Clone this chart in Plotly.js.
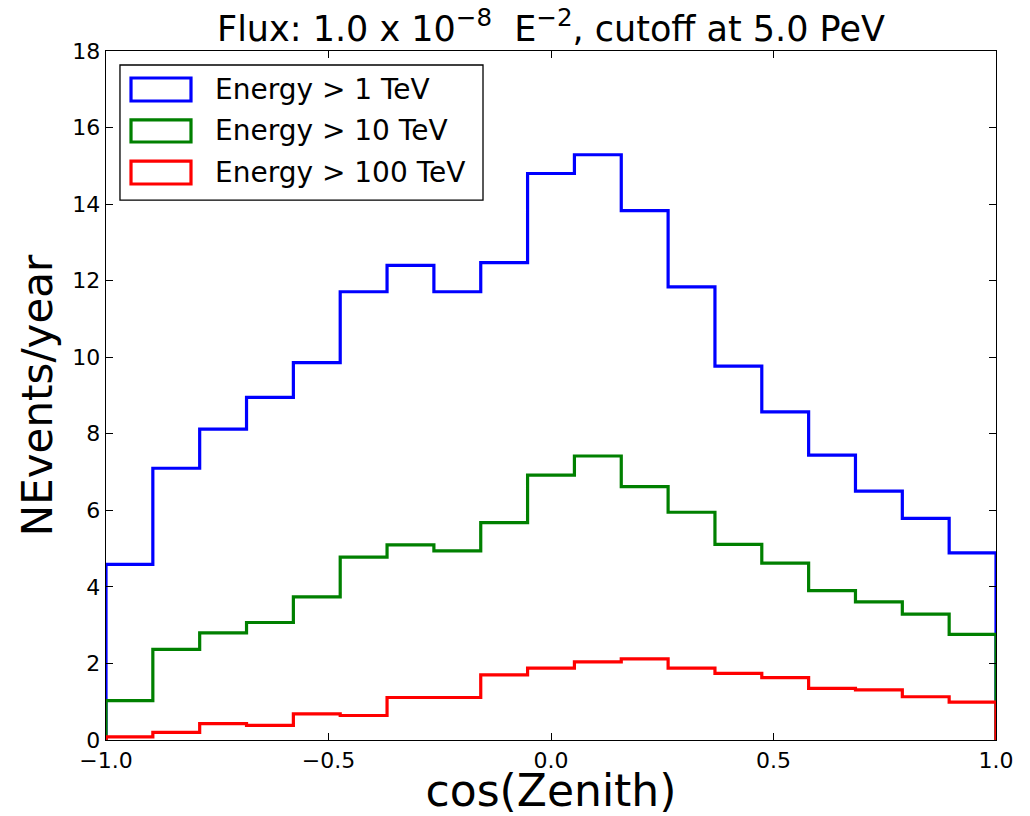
<!DOCTYPE html>
<html>
<head>
<meta charset="utf-8">
<script src="https://cdn.plot.ly/plotly-3.0.1.min.js"></script>
<style>html,body{margin:0;padding:0;background:#fff;}#chart{width:1030px;height:816px;}</style>
</head>
<body>
<div id="chart"></div>
<script>
// Data (19 bins over cos(Zenith) in [-1, 1])
const binLow = -1.0;
const binHigh = 1.0;
const nBins = 19;
const seriesNames = ["Energy > 1 TeV", "Energy > 10 TeV", "Energy > 100 TeV"];
const seriesColors = ["#0000ff", "#008000", "#ff0000"];
const countsAbove1TeV = [4.59, 7.10, 8.12, 8.95, 9.86, 11.71, 12.40, 11.71, 12.47, 14.80, 15.29, 13.83, 11.84, 9.77, 8.57, 7.44, 6.50, 5.79, 4.89];
const countsAbove10TeV = [1.03, 2.37, 2.80, 3.07, 3.74, 4.78, 5.10, 4.94, 5.68, 6.92, 7.42, 6.62, 5.95, 5.11, 4.62, 3.90, 3.61, 3.29, 2.76];
const countsAbove100TeV = [0.08, 0.20, 0.43, 0.38, 0.68, 0.64, 1.11, 1.11, 1.70, 1.88, 2.04, 2.12, 1.88, 1.74, 1.63, 1.35, 1.31, 1.13, 0.99];
const xTickVals = [-1.0, -0.5, 0.0, 0.5, 1.0];
const yTickVals = [0, 2, 4, 6, 8, 10, 12, 14, 16, 18];

const edges = [];
for (let i = 0; i <= nBins; i++) edges.push(binLow + (binHigh - binLow) * i / nBins);

function stepTrace(counts, name, color) {
  const xs = [edges[0]], ys = [0];
  for (let i = 0; i < counts.length; i++) { xs.push(edges[i]); ys.push(counts[i]); }
  xs.push(edges[counts.length]); ys.push(counts[counts.length - 1]);
  xs.push(edges[counts.length]); ys.push(0);
  return {x: xs, y: ys, type: 'scatter', mode: 'lines', name: name,
          line: {shape: 'hv', color: color, width: 3.2}, showlegend: false, hoverinfo: 'skip'};
}

const allCounts = [countsAbove1TeV, countsAbove10TeV, countsAbove100TeV];
const traces = allCounts.map((c, i) => stepTrace(c, seriesNames[i], seriesColors[i]));

// Custom legend (outlined patches like the reference)
const shapes = [{type: 'rect', xref: 'paper', yref: 'paper', x0: 0.0157, x1: 0.4236, y0: 0.7837, y1: 0.9797,
                 line: {color: '#000', width: 1.3}, fillcolor: '#fff', layer: 'above'}];
const annotations = [];
const rowY = [[0.9274, 0.9608], [0.8679, 0.8999], [0.8070, 0.8403]];
seriesNames.forEach((n, i) => {
  shapes.push({type: 'rect', xref: 'paper', yref: 'paper', x0: 0.0281, x1: 0.0955, y0: rowY[i][0], y1: rowY[i][1],
               line: {color: seriesColors[i], width: 3.2}, fillcolor: 'rgba(0,0,0,0)', layer: 'above'});
  annotations.push({xref: 'paper', yref: 'paper', x: 0.1202, y: (rowY[i][0] + rowY[i][1]) / 2,
                    xanchor: 'left', yanchor: 'middle', text: n, showarrow: false,
                    font: {family: 'DejaVu Sans', size: 28, color: '#000'}});
});

const axisCommon = {showline: true, linecolor: '#000', linewidth: 1.3, mirror: 'ticks', ticks: 'inside',
                    ticklen: 7, tickwidth: 1, tickcolor: '#000', showgrid: false, zeroline: false,
                    tickfont: {family: 'DejaVu Sans', size: 22, color: '#000'}};

const layout = {
  width: 1030, height: 816,
  margin: {l: 106, r: 34, t: 51, b: 76},
  paper_bgcolor: '#fff', plot_bgcolor: '#fff',
  title: {text: 'Flux: 1.0 x 10<sup>−8</sup>  E<sup>−2</sup>, cutoff at 5.0 PeV',
          font: {family: 'DejaVu Sans', size: 35, color: '#000'},
          xref: 'paper', x: 0.5, xanchor: 'center', y: 0.965, yanchor: 'middle'},
  xaxis: Object.assign({}, axisCommon, {range: [binLow, binHigh], tickvals: xTickVals, tickformat: '.1f',
          title: {text: 'cos(Zenith)', font: {family: 'DejaVu Sans', size: 44, color: '#000'}, standoff: 7}}),
  yaxis: Object.assign({}, axisCommon, {range: [0, 18], tickvals: yTickVals,
          title: {text: 'NEvents/year', font: {family: 'DejaVu Sans', size: 42, color: '#000'}, standoff: 6}}),
  shapes: shapes,
  annotations: annotations,
  showlegend: false
};

Plotly.newPlot('chart', traces, layout, {displayModeBar: false, staticPlot: true});
</script>
</body>
</html>
